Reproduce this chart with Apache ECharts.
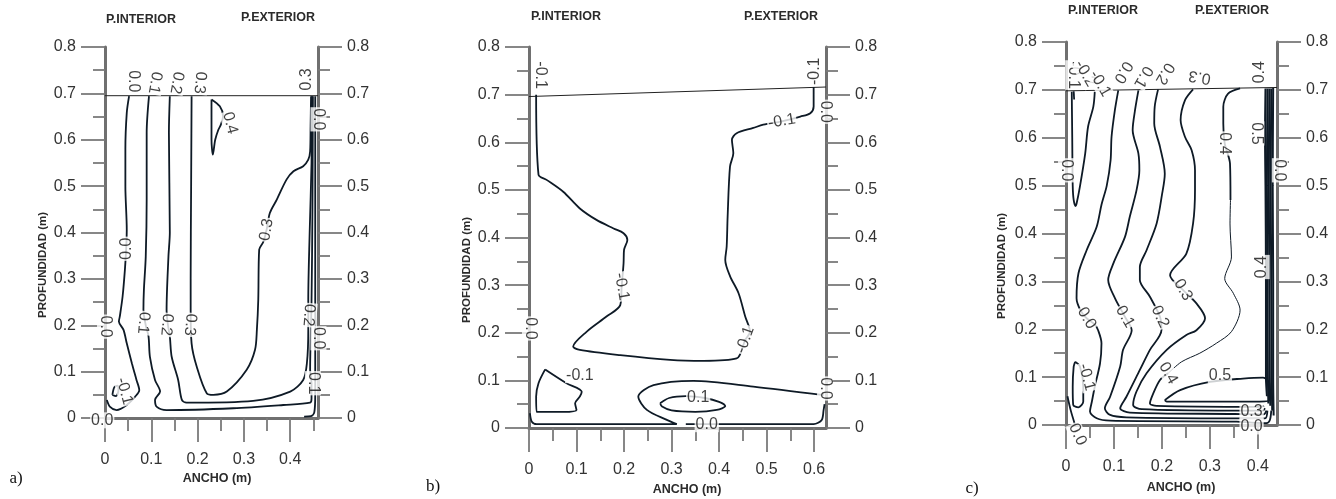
<!DOCTYPE html>
<html>
<head>
<meta charset="utf-8">
<script src="https://cdn.jsdelivr.net/npm/echarts@6/dist/echarts.min.js"></script>
<style>
  html, body { margin: 0; padding: 0; background: #fff; }
  #chart { width: 1336px; height: 499px; }
</style>
</head>
<body>
<div id="chart"></div>
<script>
// ---- tick values ----
const yTicks = [0, 0.1, 0.2, 0.3, 0.4, 0.5, 0.6, 0.7, 0.8]
const xTicksA = [0, 0.1, 0.2, 0.3, 0.4]
const xMinorA = [0.05, 0.15, 0.25, 0.35, 0.45]
const xTicksB = [0, 0.1, 0.2, 0.3, 0.4, 0.5, 0.6]
const xMinorB = [0.05, 0.15, 0.25, 0.35, 0.45, 0.55]
const xTicksC = [0, 0.1, 0.2, 0.3, 0.4]
const xMinorC = [0.05, 0.15, 0.25, 0.35]

// ---- panel a) contours [ancho, profundidad] ----
const aSurf = [[0, 0.695], [0.46, 0.695]]
const aL00 = [[0.052,0.694],[0.047,0.658],[0.044,0.58],[0.044,0.5],[0.047,0.406],[0.046,0.37],[0.043,0.32],[0.038,0.262],[0.032,0.219],[0.03,0.208],[0.04,0.19],[0.047,0.161],[0.058,0.118],[0.068,0.082],[0.074,0.06],[0.065,0.046],[0.047,0.028],[0.025,0.017],[0.011,0.024],[0.004,0.039]]
const aLm01 = [[0.016,0.05],[0.02,0.066],[0.027,0.07],[0.029,0.06],[0.024,0.047],[0.016,0.05]]
const aL01 = [[0.095,0.694],[0.09,0.615],[0.09,0.471],[0.088,0.348],[0.084,0.276],[0.083,0.233],[0.088,0.2],[0.094,0.176],[0.097,0.132],[0.108,0.082],[0.119,0.057],[0.108,0.039],[0.112,0.024],[0.133,0.017],[0.277,0.021],[0.385,0.028],[0.443,0.033],[0.446,0.042],[0.446,0.075],[0.443,0.104],[0.446,0.25],[0.448,0.45],[0.449,0.694]]
const aL02 = [[0.14,0.694],[0.138,0.615],[0.14,0.4],[0.137,0.348],[0.133,0.233],[0.136,0.2],[0.14,0.176],[0.144,0.132],[0.158,0.082],[0.166,0.039],[0.176,0.033],[0.32,0.037],[0.4,0.057],[0.428,0.082],[0.436,0.118],[0.439,0.19],[0.439,0.255],[0.442,0.4],[0.446,0.55],[0.447,0.694]]
const aL03 = [[0.187,0.694],[0.186,0.5],[0.185,0.3],[0.185,0.233],[0.187,0.161],[0.198,0.111],[0.22,0.053],[0.234,0.05],[0.263,0.057],[0.306,0.104],[0.324,0.147],[0.328,0.19],[0.331,0.255],[0.333,0.363],[0.342,0.38],[0.349,0.406],[0.356,0.442],[0.371,0.471],[0.392,0.514],[0.407,0.532],[0.428,0.543],[0.439,0.557],[0.443,0.575],[0.444,0.629],[0.445,0.694]]
const aL04 = [[0.23,0.687],[0.248,0.672],[0.255,0.651],[0.25,0.632],[0.245,0.622],[0.238,0.6],[0.233,0.568],[0.23,0.6],[0.23,0.687]]
const aL00r = [[0.454,0.694],[0.454,0.5],[0.454,0.3],[0.454,0.05],[0.452,0.012],[0.445,0.004],[0.43,0.003]]
// [x, y, text, angle]
const aLabels = [
  [0.061,0.726,'0.0',-90],[0.108,0.723,'0.1',-100],[0.155,0.723,'0.2',-100],[0.205,0.723,'0.3',-95],
  [0.436,0.73,'0.3',90],[0.27,0.636,'0.4',-75],[0.461,0.644,'0.0',-90],[0.349,0.406,'0.3',80],
  [0.046,0.365,'0.0',90],[0.083,0.205,'0.1',-95],[0.133,0.201,'0.2',-95],[0.184,0.201,'0.3',-95],
  [0.0,0.197,'0.0',-90],[0.042,0.058,'-0.1',-75],[-0.006,-0.005,'0.0',0],[0.44,0.222,'0.2',-95],
  [0.461,0.172,'0.0',-90],[0.449,0.075,'0.1',-90]
]

// ---- panel b) ----
const bSurf = [[0, 0.696], [0.625, 0.716]]
const bLm01a = [[0.015,0.7],[0.02,0.532],[0.037,0.521],[0.072,0.496],[0.107,0.461],[0.142,0.437],[0.178,0.419],[0.199,0.409],[0.207,0.395],[0.2,0.374],[0.199,0.346],[0.195,0.297],[0.192,0.258],[0.163,0.234],[0.121,0.202],[0.093,0.171],[0.107,0.164],[0.192,0.153],[0.297,0.143],[0.367,0.141],[0.437,0.146],[0.455,0.185],[0.465,0.202],[0.455,0.234],[0.441,0.283],[0.423,0.319],[0.413,0.353],[0.416,0.381],[0.418,0.444],[0.423,0.549],[0.43,0.577],[0.427,0.605],[0.437,0.619],[0.472,0.63],[0.493,0.637],[0.532,0.644],[0.571,0.654],[0.592,0.661],[0.599,0.675],[0.599,0.716]]
const bLm01b = [[0.034,0.123],[0.079,0.094],[0.111,0.076],[0.107,0.066],[0.097,0.052],[0.1,0.038],[0.072,0.034],[0.016,0.034],[0.015,0.066],[0.02,0.094],[0.034,0.123]]
const bL00a = [[0.62,0.069],[0.472,0.087],[0.346,0.099],[0.262,0.09],[0.23,0.066],[0.248,0.038],[0.29,0.017],[0.311,0.008],[0.2,0.008],[0.016,0.008],[0.006,0.013],[0.002,0.031]]
const bL00b = [[0.33,0.008],[0.5,0.008],[0.599,0.008],[0.616,0.017],[0.62,0.038],[0.622,0.05]]
const bL01 = [[0.276,0.052],[0.295,0.063],[0.33,0.067],[0.37,0.063],[0.4,0.055],[0.413,0.046],[0.395,0.038],[0.35,0.034],[0.3,0.037],[0.28,0.045],[0.276,0.052]]
const bLabels = [
  [0.023,0.741,'-0.1',-90],[0.602,0.749,'-0.1',90],[0.623,0.664,'0.0',-90],[0.532,0.644,'-0.1',10],
  [0.195,0.297,'-0.1',-80],[0.455,0.185,'-0.1',70],[0.002,0.209,'0.0',-90],[0.623,0.083,'0.0',-90],
  [0.107,0.111,'-0.1',0],[0.356,0.064,'0.1',0],[0.374,0.008,'0.0',0]
]

// ---- panel c) ----
const cSurf = [[0, 0.698], [0.44, 0.705]]
const cLm01a = [[0.012,0.696],[0.013,0.6],[0.014,0.5],[0.016,0.47],[0.02,0.457],[0.022,0.462],[0.029,0.498],[0.04,0.567],[0.046,0.623],[0.057,0.665],[0.06,0.696]]
const cLm02 = [[0.016,0.697],[0.017,0.68]]
const cL00 = [[0.109,0.699],[0.102,0.658],[0.095,0.602],[0.093,0.553],[0.085,0.5],[0.074,0.46],[0.064,0.414],[0.043,0.365],[0.026,0.317],[0.022,0.265],[0.03,0.24],[0.043,0.223],[0.06,0.21],[0.067,0.198],[0.074,0.171],[0.071,0.129],[0.06,0.08],[0.054,0.049],[0.05,0.028],[0.064,0.014],[0.092,0.009],[0.356,0.007],[0.387,0.005],[0.418,0.004],[0.425,0.01],[0.428,0.03]]
const cL00b = [[0.003,0.06],[0.01,0.03],[0.019,0.0]]
const cLm01b = [[0.019,0.132],[0.029,0.122],[0.036,0.08],[0.036,0.049],[0.026,0.037],[0.015,0.042],[0.014,0.08],[0.016,0.122],[0.019,0.132]]
const cL01 = [[0.151,0.699],[0.144,0.658],[0.139,0.616],[0.151,0.567],[0.153,0.532],[0.147,0.49],[0.133,0.435],[0.123,0.393],[0.099,0.338],[0.088,0.303],[0.102,0.265],[0.123,0.226],[0.137,0.198],[0.119,0.157],[0.113,0.122],[0.092,0.059],[0.081,0.035],[0.092,0.021],[0.126,0.016],[0.352,0.014],[0.415,0.014],[0.42,0.03]]
const cL02 = [[0.192,0.701],[0.185,0.665],[0.184,0.63],[0.196,0.581],[0.206,0.525],[0.2,0.48],[0.189,0.421],[0.168,0.365],[0.154,0.33],[0.154,0.303],[0.175,0.268],[0.196,0.226],[0.199,0.198],[0.175,0.157],[0.154,0.115],[0.126,0.059],[0.113,0.035],[0.133,0.026],[0.352,0.023],[0.412,0.022],[0.418,0.03]]
const cL03 = [[0.265,0.701],[0.248,0.678],[0.239,0.637],[0.248,0.602],[0.262,0.574],[0.269,0.532],[0.269,0.491],[0.265,0.421],[0.251,0.358],[0.217,0.313],[0.244,0.282],[0.272,0.254],[0.29,0.223],[0.272,0.198],[0.251,0.188],[0.21,0.157],[0.168,0.108],[0.147,0.07],[0.14,0.042],[0.158,0.033],[0.349,0.03],[0.41,0.03],[0.415,0.035]]
const cL04a = [[0.363,0.703],[0.338,0.692],[0.328,0.665],[0.328,0.63],[0.331,0.588],[0.342,0.546],[0.343,0.47]]
const cL04b = [[0.343,0.47],[0.342,0.42],[0.345,0.351],[0.331,0.306],[0.349,0.275],[0.363,0.24],[0.345,0.195],[0.314,0.171],[0.279,0.15],[0.241,0.132],[0.213,0.108]]
const cL04c = [[0.213,0.108],[0.196,0.094],[0.182,0.066],[0.175,0.045],[0.189,0.04],[0.404,0.038],[0.413,0.04]]
const cL05 = [[0.206,0.052],[0.238,0.073],[0.3,0.09],[0.369,0.097],[0.411,0.099],[0.424,0.087],[0.425,0.052],[0.404,0.049],[0.21,0.049],[0.206,0.052]]
const cW1 = [[0.416,0.703],[0.415,0.6],[0.416,0.5],[0.417,0.3],[0.417,0.1],[0.419,0.06]]
const cW2 = [[0.42,0.703],[0.419,0.5],[0.42,0.3],[0.421,0.1],[0.422,0.045]]
const cW3 = [[0.424,0.703],[0.423,0.5],[0.424,0.3],[0.425,0.1],[0.426,0.04]]
const cW4 = [[0.428,0.703],[0.427,0.5],[0.428,0.3],[0.429,0.1],[0.43,0.03]]
const cW5 = [[0.432,0.704],[0.431,0.5],[0.432,0.3],[0.432,0.1],[0.433,0.02]]
const cLabels = [
  [0.015,0.731,'-0.1',-90],[0.04,0.734,'-0.2',-60],[0.071,0.713,'-0.1',-60],[0.119,0.737,'0.0',-120],
  [0.161,0.727,'0.1',-120],[0.206,0.734,'0.2',-120],[0.279,0.727,'0.3',170],[0.404,0.737,'0.4',90],
  [0.331,0.588,'0.4',-90],[0.397,0.609,'0.5',-90],[0.446,0.532,'0.0',-90],[0.0,0.532,'0.0',-90],
  [0.043,0.223,'0.0',-60],[0.123,0.226,'0.1',-60],[0.196,0.226,'0.2',-65],[0.244,0.282,'0.3',-60],
  [0.408,0.33,'0.4',90],[0.213,0.108,'0.4',-60],[0.043,0.1,'-0.1',-75],[0.321,0.104,'0.5',0],
  [0.387,0.028,'0.3',0],[0.387,-0.003,'0.0',0],[0.024,-0.02,'0.0',-65]
]

const FONT = 'Liberation Sans, Arial, sans-serif'
const axisGray = '#707070'
const tickGray = '#7a7a7a'
const lineCol = '#0e1a26'
const fmt = v => (v === 0 ? '0' : String(Math.round(v * 10) / 10))

// grid boxes in px: a, b, c
const panels = [
  { left: 105, top: 47, width: 213, height: 371, xmax: 0.46, ticks: xTicksA, minors: xMinorA },
  { left: 529, top: 47, width: 297, height: 381, xmax: 0.625, ticks: xTicksB, minors: xMinorB },
  { left: 1066, top: 42, width: 211, height: 383, xmax: 0.44, ticks: xTicksC, minors: xMinorC }
]

const grid = []
const xAxis = []
const yAxis = []
panels.forEach((p, gi) => {
  grid.push({ left: p.left, top: p.top, width: p.width, height: p.height, containLabel: false, outerBoundsMode: 'none' })
  xAxis.push({
    type: 'value', gridIndex: gi, min: 0, max: p.xmax, interval: 0.1, position: 'bottom',
    axisLine: { show: true, onZero: false, lineStyle: { color: axisGray, width: 3 } },
    axisTick: { show: true, length: 24, customValues: p.ticks, lineStyle: { color: tickGray, width: 1.8 } },
    axisLabel: { customValues: p.ticks, margin: 34, fontSize: 16, color: '#333', fontFamily: FONT, formatter: fmt },
    splitLine: { show: false }
  })
  xAxis.push({
    type: 'value', gridIndex: gi, min: 0, max: p.xmax, interval: 0.05, position: 'bottom',
    axisLine: { show: false },
    axisTick: { show: true, length: 13, customValues: p.minors, lineStyle: { color: tickGray, width: 1.8 } },
    axisLabel: { show: false },
    splitLine: { show: false }
  })
  ;['left', 'right'].forEach(pos => {
    yAxis.push({
      type: 'value', gridIndex: gi, min: 0, max: 0.8, interval: 0.1, position: pos,
      axisLine: { show: true, onZero: false, lineStyle: { color: axisGray, width: 3 } },
      axisTick: { show: true, length: 24, lineStyle: { color: tickGray, width: 1.8 } },
      minorTick: { show: true, splitNumber: 2, length: 12, lineStyle: { color: tickGray, width: 1.8 } },
      axisLabel: { margin: 29, fontSize: 16, color: '#333', fontFamily: FONT, formatter: fmt },
      splitLine: { show: false },
      minorSplitLine: { show: false }
    })
  })
})

function line(gi, data, width) {
  return {
    type: 'line', xAxisIndex: gi * 2, yAxisIndex: gi * 2, data: data,
    showSymbol: false, symbol: 'none', smooth: 0.3, clip: false, z: 3,
    lineStyle: { color: lineCol, width: width || 1.8 }
  }
}
function surf(gi, data) {
  return {
    type: 'line', xAxisIndex: gi * 2, yAxisIndex: gi * 2, data: data,
    showSymbol: false, symbol: 'none', clip: false, z: 3,
    lineStyle: { color: '#222', width: 1 }
  }
}
function labels(gi, list) {
  return {
    type: 'scatter', xAxisIndex: gi * 2, yAxisIndex: gi * 2, clip: false, z: 6,
    symbolSize: 1, itemStyle: { color: 'rgba(0,0,0,0)' },
    label: {
      show: true, position: 'inside', fontSize: 16, color: '#111', fontFamily: FONT,
      backgroundColor: '#fff', padding: [0, 1]
    },
    data: list.map(d => ({ value: [d[0], d[1]], label: { formatter: d[2], rotate: d[3] } }))
  }
}

const series = [
  surf(0, aSurf), line(0, aL00), line(0, aLm01), line(0, aL01), line(0, aL02), line(0, aL03),
  line(0, aL04), line(0, aL00r), labels(0, aLabels),
  surf(1, bSurf), line(1, bLm01a), line(1, bLm01b), line(1, bL00a), line(1, bL00b), line(1, bL01),
  labels(1, bLabels),
  surf(2, cSurf), line(2, cLm01a), line(2, cLm02), line(2, cL00), line(2, cL00b), line(2, cLm01b),
  line(2, cL01), line(2, cL02), line(2, cL03), line(2, cL04a), line(2, cL04b, 1), line(2, cL04c),
  line(2, cL05), line(2, cW1, 2), line(2, cW2, 2), line(2, cW3, 2), line(2, cW4, 2), line(2, cW5, 2),
  labels(2, cLabels)
]

function txt(text, x, y, opts) {
  const o = opts || {}
  return {
    type: 'text', x: x, y: y, rotation: o.rot || 0, z: 10,
    style: {
      text: text, x: 0, y: 0, align: 'center', verticalAlign: 'middle',
      fontSize: o.size || 12.5, fontWeight: o.weight || 'bold',
      fontFamily: o.family || FONT, fill: o.fill || '#2b2b2b'
    }
  }
}

const graphic = [
  txt('P.INTERIOR', 141, 20), txt('P.EXTERIOR', 278, 18),
  txt('P.INTERIOR', 566, 17), txt('P.EXTERIOR', 781, 17),
  txt('P.INTERIOR', 1103, 11), txt('P.EXTERIOR', 1232, 11),
  txt('ANCHO (m)', 217, 479), txt('ANCHO (m)', 687, 490), txt('ANCHO (m)', 1181, 488),
  txt('PROFUNDIDAD (m)', 43, 265, { rot: Math.PI / 2, size: 11.5 }),
  txt('PROFUNDIDAD (m)', 467, 270, { rot: Math.PI / 2, size: 11.5 }),
  txt('PROFUNDIDAD (m)', 1002, 266, { rot: Math.PI / 2, size: 11.5 }),
  txt('a)', 16, 479, { size: 17, weight: 'normal', family: 'Liberation Serif, Times New Roman, serif', fill: '#111' }),
  txt('b)', 433, 487, { size: 17, weight: 'normal', family: 'Liberation Serif, Times New Roman, serif', fill: '#111' }),
  txt('c)', 972, 489, { size: 17, weight: 'normal', family: 'Liberation Serif, Times New Roman, serif', fill: '#111' })
]

const chart = echarts.init(document.getElementById('chart'))
chart.setOption({
  backgroundColor: '#fff',
  animation: false,
  grid: grid,
  xAxis: xAxis,
  yAxis: yAxis,
  series: series,
  graphic: graphic
})
</script>
</body>
</html>
